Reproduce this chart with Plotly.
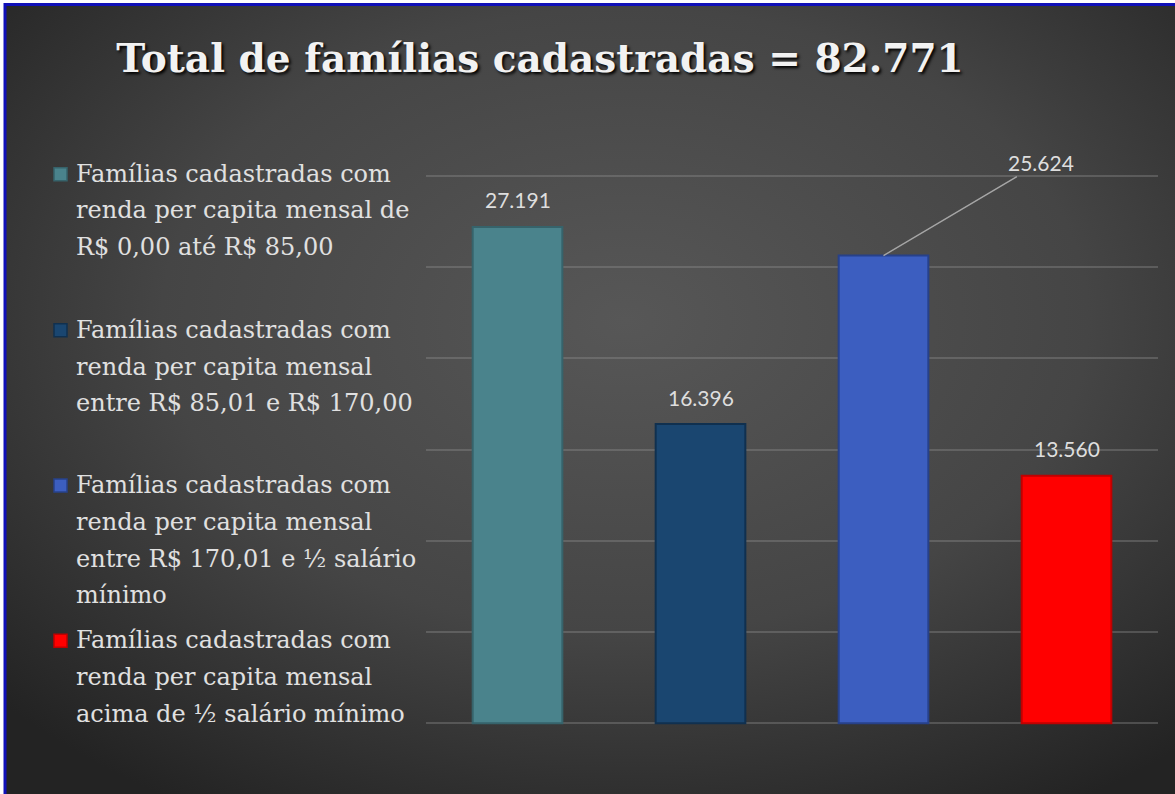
import base64
import plotly.graph_objects as go

# ---------------- data ----------------
categories = [
    "Famílias cadastradas com<br>renda per capita mensal de<br>R$ 0,00 até R$ 85,00",
    "Famílias cadastradas com<br>renda per capita mensal<br>entre R$ 85,01 e R$ 170,00",
    "Famílias cadastradas com<br>renda per capita mensal<br>entre R$ 170,01 e ½ salário<br>mínimo",
    "Famílias cadastradas com<br>renda per capita mensal<br>acima de ½ salário mínimo",
]
values = [27191, 16396, 25624, 13560]
value_labels = ["27.191", "16.396", "25.624", "13.560"]
bar_colors = ["#4a838c", "#1a4670", "#3c5ec0", "#ff0000"]
edge_colors = ["#36636b", "#10304f", "#27418a", "#c00000"]
title_text = "Total de famílias cadastradas = 82.771"
y_ticks = [0, 5000, 10000, 15000, 20000, 25000, 30000]

# ---------------- layout geometry ----------------
W, H = 1175, 794
Y0, Y1 = -200, 30200          # small padding so edge gridlines are drawn
PX_PER_UNIT = (723 - 176) / 30000
ML, MR = 426, 17
MT = 176 - (Y1 - 30000) * PX_PER_UNIT
MB = (H - 723) - (0 - Y0) * PX_PER_UNIT
PW, PH = W - ML - MR, H - MT - MB


def px(x):
    return (x - ML) / PW


def py(y):
    return (H - MB - y) / PH


# radial-gradient background as an SVG image
svg = f'''<svg xmlns="http://www.w3.org/2000/svg" width="{W}" height="{H}" viewBox="0 0 {W} {H}">
<defs><radialGradient id="g" cx="0.53" cy="0.40" r="0.72" gradientUnits="objectBoundingBox">
<stop offset="0" stop-color="#575757"/><stop offset="0.55" stop-color="#454545"/>
<stop offset="1" stop-color="#232323"/></radialGradient></defs>
<rect x="0" y="0" width="{W}" height="{H}" fill="url(#g)"/></svg>'''
bg_src = "data:image/svg+xml;base64," + base64.b64encode(svg.encode()).decode()

fig = go.Figure()
fig.add_trace(go.Bar(
    x=categories, y=values,
    marker=dict(color=bar_colors, line=dict(color=edge_colors, width=2)),
    showlegend=False, hoverinfo="skip",
))

annotations = []
label_font = dict(family="Lato, Open Sans, sans-serif", size=21, color="#dedede")
for i, (c, v, t) in enumerate(zip(categories, values, value_labels)):
    if i == 2:
        annotations.append(dict(
            x=c, y=v, xref="x", yref="y", text=t, showarrow=True,
            arrowhead=0, arrowwidth=1.5, arrowcolor="#a6a6a6",
            ax=157, ay=-93, standoff=0, font=label_font,
        ))
    else:
        annotations.append(dict(
            x=c, y=v, xref="x", yref="y", text=t, showarrow=False,
            yshift=27, font=label_font,
        ))

# legend drawn as text lines with colored squares
legend_font = dict(family="DejaVu Serif, serif", size=24, color="#e0e0e0")
group_top = [174, 330, 485, 640]
line_pitch = 36.7
shapes = []
for i, (c, top) in enumerate(zip(categories, group_top)):
    for j, line in enumerate(c.split("<br>")):
        annotations.append(dict(
            x=px(74), y=py(top + j * line_pitch), xref="paper", yref="paper",
            xanchor="left", yanchor="middle", text=line, showarrow=False,
            font=legend_font,
        ))
    shapes.append(dict(
        type="rect", xref="paper", yref="paper",
        x0=px(54), x1=px(67), y0=py(top + 7), y1=py(top - 6),
        fillcolor=bar_colors[i], line=dict(color=edge_colors[i], width=1.5),
    ))

# blue frame
shapes.append(dict(
    type="rect", xref="paper", yref="paper",
    x0=px(5), x1=px(W + 10), y0=py(H + 10), y1=py(5),
    line=dict(color="#1010b8", width=3), fillcolor="rgba(0,0,0,0)", layer="above",
))

fig.update_layout(
    width=W, height=H,
    margin=dict(l=ML, r=MR, t=MT, b=MB, pad=0),
    paper_bgcolor="white",
    plot_bgcolor="rgba(0,0,0,0)",
    bargap=0.51,
    title=dict(
        text=title_text, x=540 / W, xanchor="center", y=1 - 58 / H, yanchor="middle",
        xref="container", yref="container",
        font=dict(family="DejaVu Serif, serif", size=39, color="#f2f2f2", weight="bold",
                  shadow="2px 2px 3px #000000"),
    ),
    images=[dict(
        source=bg_src, xref="paper", yref="paper",
        x=px(5), y=py(5), sizex=(W - 5) / PW, sizey=(H - 5) / PH,
        xanchor="left", yanchor="top", sizing="stretch", layer="below",
    )],
    xaxis=dict(showticklabels=False, showgrid=False, zeroline=False, showline=False, ticks=""),
    yaxis=dict(range=[Y0, Y1], tickvals=y_ticks, showticklabels=False,
               showgrid=True, gridcolor="rgba(150,150,150,0.35)", gridwidth=2,
               zeroline=False, showline=False, ticks=""),
    annotations=annotations,
    shapes=shapes,
)

fig.write_html("out.html", config={"displayModeBar": False},
               post_script="document.body.style.margin='0';")
